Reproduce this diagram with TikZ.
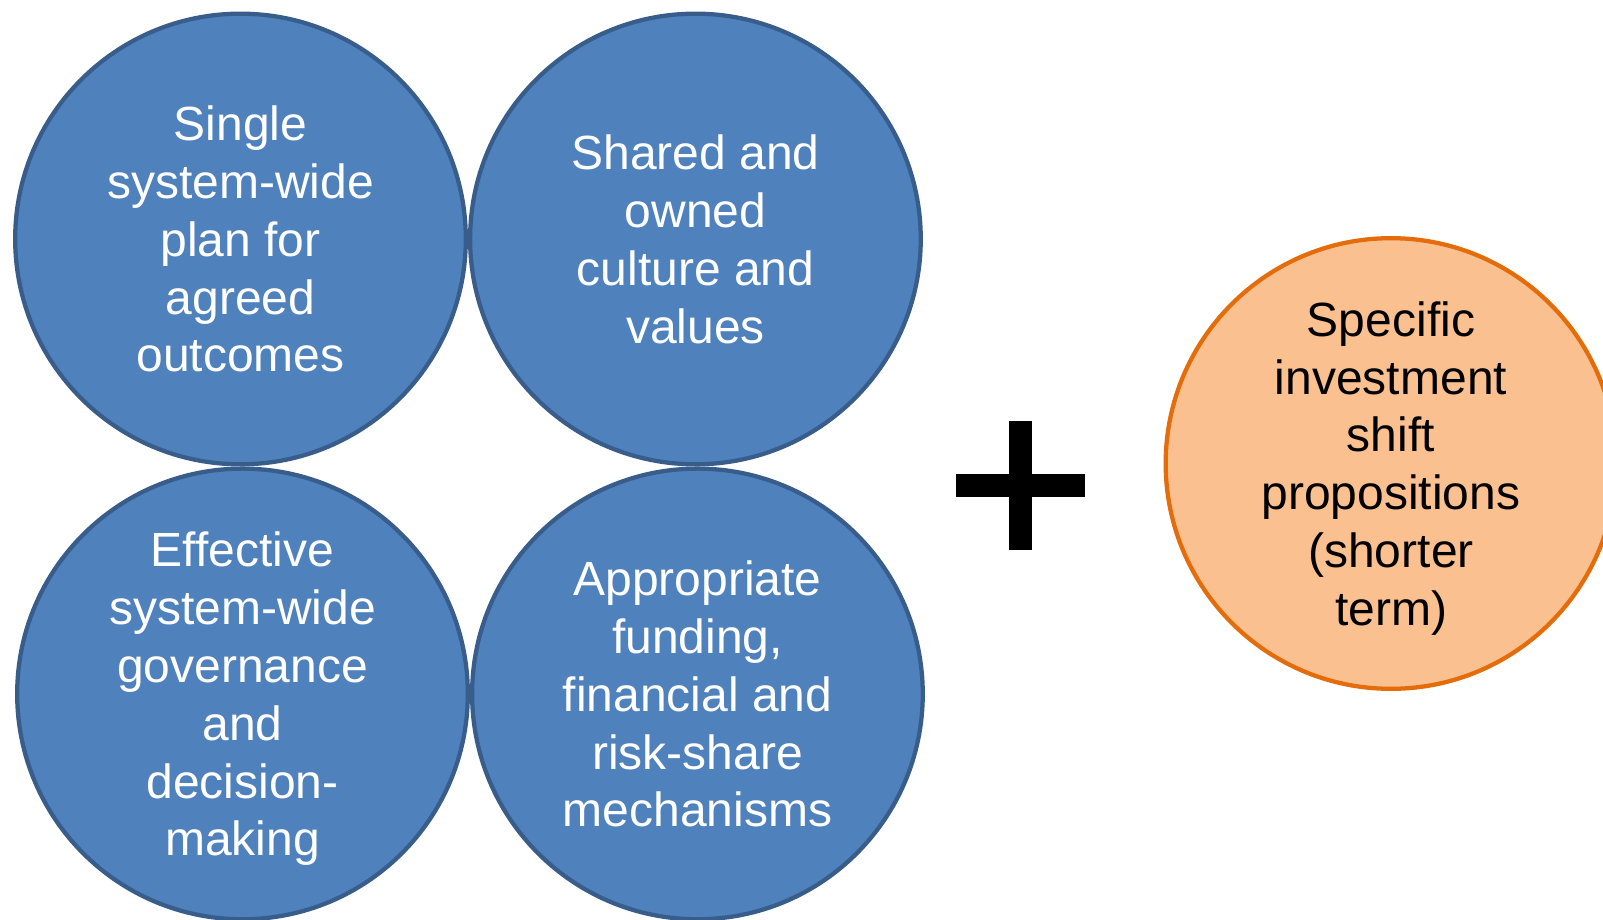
\documentclass[tikz,border=0pt]{standalone}
\usepackage{fontspec}
\setmainfont{Liberation Sans}
\usepackage{tikz}
\usetikzlibrary{positioning}
\definecolor{pillar}{HTML}{4F81BD}
\definecolor{pillarline}{HTML}{385D8A}
\definecolor{shift}{HTML}{FAC090}
\definecolor{shiftline}{HTML}{E46C0A}

\begin{document}
\begin{tikzpicture}[x=0.75pt,y=-0.75pt,node distance=0pt,
 c/.style={circle,line width=3.2pt,minimum size=338pt,inner sep=0pt,align=center,
  text depth=0pt,font=\fontsize{36}{43.35}\selectfont},
 blu/.style={c,draw=pillarline,fill=pillar,text=white},
 org/.style={c,draw=shiftline,fill=shift,text=black},
 bar/.style={line width=17.25pt,line cap=butt}]
\useasboundingbox (0,0) rectangle (1603,920);
\clip (0,0) rectangle (1603,920);
% the four pillars, touching each other
\node[blu] (plan) at (240.5,239) {Single\\system-wide\\plan for\\agreed\\outcomes};
\node[blu,right=of plan] (cult) {Shared and\\owned\\culture and\\values};
\node[blu,below=of plan,xshift=1.5pt] (gov) {Effective\\system-wide\\governance\\and\\decision-\\making};
\node[blu,right=of gov] (fund) {Appropriate\\funding,\\financial and\\risk-share\\mechanisms};
% plus sign and the shorter term circle
\coordinate (plus) at (1020.5,485.5);
\draw[bar] ([xshift=-48.4pt]plus) -- ([xshift=48.4pt]plus);
\draw[bar] ([yshift=48.4pt]plus) -- ([yshift=-48.4pt]plus);
\node[org] (inv) at (1391,463.5) {Specific\\investment\\shift\\propositions\\(shorter\\term)};
\end{tikzpicture}
\end{document}
